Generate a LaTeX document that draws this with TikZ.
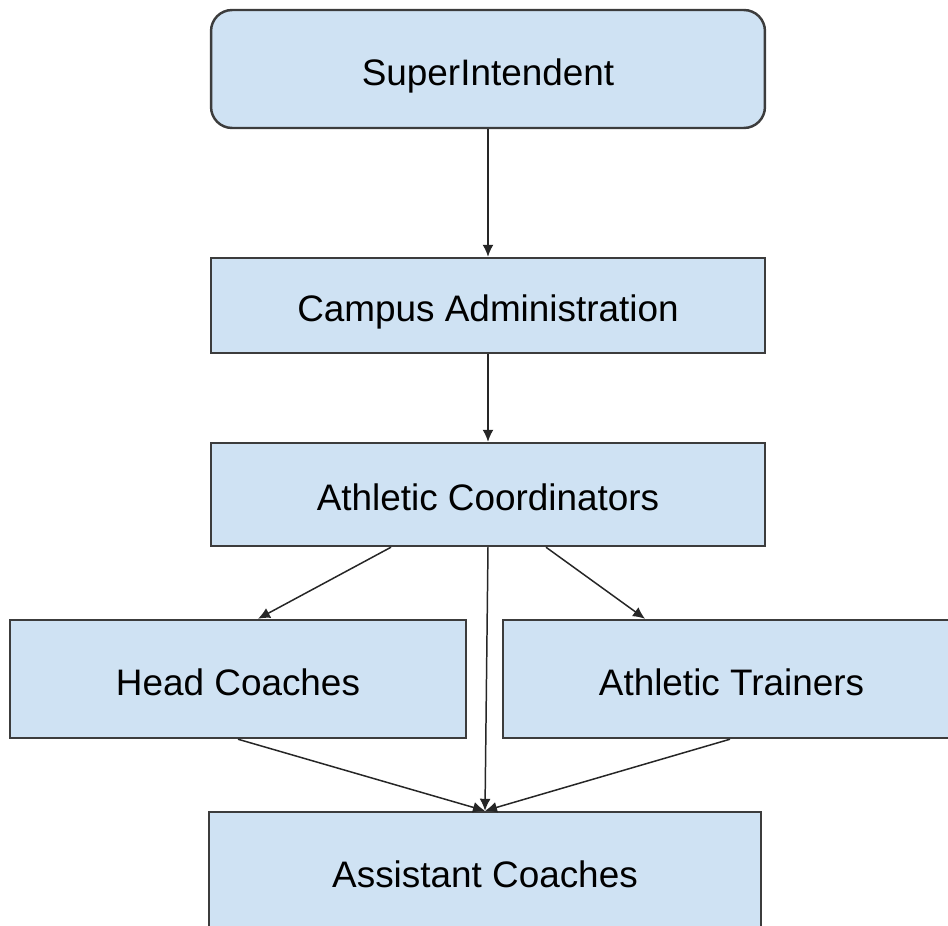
\documentclass[tikz,border=0pt]{standalone}
\usepackage{fontspec}
\setmainfont{Liberation Sans}
\usetikzlibrary{arrows.meta, positioning}

\definecolor{boxfill}{HTML}{CFE2F3}
\definecolor{boxline}{HTML}{3C3C3C}

\tikzset{
    box/.style = {draw=boxline, fill=boxfill, line width=1.4pt, inner sep=0pt,
                  font=\fontsize{21}{25}\selectfont, text height=18.6pt, text depth=0pt},
    wide/.style = {box, minimum width=11.08cm},
    half/.style = {box, minimum width=9.12cm, minimum height=2.36cm},
    link/.style = {-{Latex[length=2.4mm,width=2.2mm]}, line width=0.85pt, color=black!85}
}

\begin{document}
\begin{tikzpicture}[x=0.02cm, y=-0.02cm]
                \useasboundingbox (0,0) rectangle (948,926);

                \node (sup) [wide, minimum height=2.36cm, rounded corners=0.42cm] at (488,69) {SuperIntendent};
                \node (campus) [wide, minimum height=1.9cm] at (488,305.5) {Campus Administration};
                \node (coord) [wide, minimum height=2.06cm] at (488,494.5) {Athletic Coordinators};
                \node (head) [half] at (238,679) {Head Coaches};
                % runs past the right edge of the page
                \node (trainers) [half, minimum width=9.4cm] at (738,679) {\hspace*{-0.26cm}Athletic Trainers};
                \node (assist) [box, minimum width=11.04cm, minimum height=2.36cm] at (485,871) {Assistant Coaches};

                \path [link]
                    (sup) edge (campus)
                    (campus.south) edge (coord.north)
                    ([xshift=-1.94cm]coord.south) edge ([xshift=0.4cm]head.north)
                    ([xshift=1.16cm]coord.south) edge ([xshift=-1.86cm]trainers.north)
                    (coord.south) edge (assist.north)
                    (head.south) edge (assist.north)
                    ([xshift=-0.16cm]trainers.south) edge (assist.north);
            \end{tikzpicture}
\end{document}
